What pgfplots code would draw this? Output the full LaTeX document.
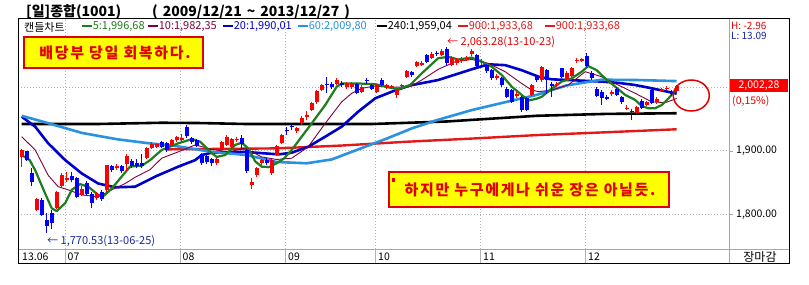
\documentclass[border=0pt]{standalone}
\usepackage{pgfplots}
\pgfplotsset{compat=1.18}
\usepackage{pgfplotstable}
\usepackage{fontspec}
\setmainfont{Noto Sans CJK KR}
\newfontfamily\boxfont[LetterSpace=11]{Noto Sans CJK KR}
\definecolor{cR}{RGB}{255,0,0}
\definecolor{cB}{RGB}{0,0,255}
\definecolor{maA}{RGB}{30,125,30}
\definecolor{maB}{RGB}{128,0,64}
\definecolor{maC}{RGB}{0,0,205}
\definecolor{maD}{RGB}{40,145,225}
\definecolor{maF}{RGB}{225,25,25}
\definecolor{navyt}{RGB}{20,40,160}
\definecolor{ybox}{RGB}{255,255,0}
\definecolor{rtext}{RGB}{225,0,0}
\newcommand\fs[1]{\fontsize{#1}{#1}\selectfont}
\newcommand\lgd[2]{{\color{#1}\rule[3pt]{10pt}{1.8pt}\hspace{0.6pt}#2}}

% candles: k, body bottom, body top, low, high
\pgfplotstableread{
k B T L H
0 1890 1901 1874 1902
3 1806 1824 1805 1825
7 1809 1835 1807 1836
8 1844 1862 1842 1864
9 1853 1856 1850 1866
12 1830 1839 1828 1844
15 1825 1832 1822 1835
17 1837 1877 1835 1878
19 1872 1876 1869 1879
21 1879 1891 1868 1894
25 1889 1904 1887 1905
26 1904 1911 1902 1913
27 1906 1910 1904 1912
30 1908 1916 1905 1918
31 1916 1921 1913 1923
32 1917 1920 1914 1926
39 1880 1886 1878 1888
40 1901 1914 1899 1915
41 1909 1922 1907 1924
42 1905 1918 1903 1920
43 1916 1918 1913 1921
46 1846 1850 1840 1856
47 1861 1872 1859 1874
48 1880 1885 1877 1887
50 1864 1885 1862 1886
51 1893 1907 1891 1909
52 1912 1924 1910 1926
55 1931 1935 1928 1937
56 1943 1952 1940 1954
57 1953 1956 1948 1962
58 1964 1975 1962 1977
59 1976 1994 1974 1996
60 1996 2003 1994 2005
63 2006 2011 2003 2014
65 2001 2006 1998 2008
66 2000 2006 1998 2008
68 1993 2001 1991 2003
71 1993 2004 1991 2006
73 1999 2003 1997 2005
74 2001 2002.5 1998 2004
75 1988 1996 1983 1997
76 2002 2004 2000 2006
77 2017 2025 2015 2027
79 2034 2040 2032 2042
80 2035 2039 2033 2041
82 2047 2053 2045 2055
84 2051 2058 2049 2060
86 2035 2047 2033 2049
87 2038 2043 2035 2046
88 2041 2045 2039 2048
89 2043 2047 2041 2050
90 2052 2058 2050 2060
92 2040 2042 2036 2045
95 2014 2018 2011 2021
99 1986 1990 1983 1993
102 1988 2004 1986 2006
104 2011 2032 2009 2034
107 2003 2006 2000 2008
109 2013 2023 2011 2025
110 2018 2030 2016 2032
111 2041 2043 2039 2046
112 2042 2044 2040 2047
118 1990 1992 1987 1995
121 1966 1968 1964 1972
123 1960 1969 1958 1971
125 1972 1977 1970 1979
127 1976 1982 1974 1984
128 1994.5 1996 1992 1999
129 1997 1999 1995 2002
131 1994.6 2002.28 1993 2003
}\redc

\pgfplotstableread{
k B T L H
1 1885 1899 1884 1900
2 1851 1865 1844 1872
4 1799 1822 1796 1825
5 1781 1790 1770.53 1801
6 1785 1801 1776 1806
10 1853 1860 1850 1866
11 1827 1856 1825 1859
13 1832 1849 1830 1852
14 1817 1831 1810 1834
16 1823 1835 1820 1838
18 1870 1875 1866 1878
20 1867 1876 1864 1878
22 1875 1884 1872 1887
23 1875 1881 1872 1886
24 1875 1880 1873 1894
28 1906 1913 1904 1915
29 1901 1912 1898 1914
33 1923 1937 1920 1940
34 1914 1920 1911 1922
35 1907 1916 1905 1918
36 1880 1894 1878 1896
37 1882 1891 1879 1893
38 1880 1886 1876 1888
44 1911 1920 1903 1925
45 1867 1901 1865 1902
49 1880 1885 1877 1888
53 1931 1933 1925 1937
54 1937 1939 1932 1941
61 2003 2005 1991 2016
62 2000 2005 1997 2008
64 2003 2007 2000 2010
67 1991 2005 1989 2007
69 2010 2012 2006 2014
70 1998 2004 1996 2006
72 2004 2012 2002 2014
78 2019 2024 2017 2026
81 2040 2051 2038 2053
83 2053 2054.5 2050 2058
85 2038 2061 2035 2063.28
91 2034 2051 2031 2053
93 2025 2035 2023 2037
94 2014 2027 2012 2029
96 2004 2014 2001 2016
97 1985 1998 1983 2000
98 1977 1996 1975 1998
100 1964 1985 1961 1987
101 1964 1983 1962 1985
103 2012 2017 2009 2019
105 2012 2027 1990 2029
106 2002 2005 1985 2008
108 2017 2030 2015 2031
113 2034 2050 2032 2054
114 2015 2022 2012 2026
115 1986 1998 1984 2000
116 1983 1993 1972 1995
117 1982 1984 1980 1988
119 1988 1998 1986 2000
120 1976 1985 1974 1987
122 1961 1963 1948 1965
124 1968 1979 1966 1981
126 1975 1995 1973 1997
130 1989 1993 1987 1995
}\bluec

\pgfplotstableread{
k v
0 1893
1.6 1885
2.7 1869
4.7 1832
6 1809
7 1804.5
8.7 1817
10 1838
11.7 1847
13.3 1843
15.3 1830
16.5 1829
18 1840
20 1859
21.7 1875
24 1876
25.7 1885
28 1901
31.3 1911.5
34 1918
35.7 1914
38 1896
39 1890
40.7 1893
42.7 1909
44 1912.5
45.3 1903.6
46.7 1883
48 1874.6
49.5 1874
51 1880
52.5 1888
54 1901
56 1922
58 1943
60.7 1972
63 2001
64 2006
67.3 2006
70.7 2005
73.3 2000
75.3 1997
77.7 2003.6
80 2022
83.3 2046
85.3 2048
87.3 2044
90 2047
92 2040.5
94 2032.5
96 2019.4
98 2001
100 1988
101.3 1979
103 1982
104 1985
106 1998
108 2009
110 2014
112 2024.6
113.3 2033.6
115 2027
116.7 2014
118.7 2001
120.7 1988
122.7 1980
124 1970.5
125.3 1967
126.7 1967
128 1972
129.3 1982
130.3 1991
131 1996.7
}\mafive

\pgfplotstableread{
k v
0 1922
2.7 1901
5.3 1861
7.3 1843
9.3 1838
12 1830
15.3 1827
18 1838
20.7 1848
22.7 1858
25.7 1870
28 1888
31.3 1898
34.7 1909
38 1902
41.3 1898
44.7 1903.6
48 1890
51 1886
54 1888
57.3 1906
60.7 1943
64 1977
66 1990.5
68 1998.4
70.7 2002
74 2000
77.7 2001
80 2011.5
83.3 2028.4
86.7 2040.5
90 2044
93.3 2038
96.7 2024.6
100 2006
102 1995.7
103.4 1993
106 1995.7
109.3 2003.6
112.7 2024.6
116 2016.7
119.3 2003.6
122.7 1990.5
126 1977
128.7 1975.7
131 1982.35
}\maten

\pgfplotstableread{
k v
0 1953.6
2.7 1937.8
5.3 1911.5
8.7 1885
12 1864
15.3 1848
18.7 1842
22.7 1843
24.7 1851
27 1860
31.3 1874.6
34.7 1885
36 1893
38 1896.7
44.7 1898
48 1896
51.4 1894
54 1896.7
57.3 1906
60.7 1922
64 1937.8
67.3 1961.5
70.7 1982.6
74 1993
77.7 2003
83.3 2011.5
90 2028.4
93.3 2036.3
96.7 2035
100 2027
103.4 2016.7
106 2012.6
109.3 2011.5
116 2009
119.3 2007
122.7 2003.6
126 1998.4
131 1990
}\matwenty

\pgfplotstableread{
k v
0 1955
5 1944
12 1928
19 1918
25 1912
31 1907
38 1898
45 1893
51 1882
57 1880
62 1886
67 1901
73 1919
78 1935
83 1948
90 1964
97 1977
103 1988
109 2003
116 2012
123 2011.5
131 2009.8
}\masixty

\pgfplotstableread{
k v
0 1942
15 1942
28 1944
36 1943.5
45 1942
70 1942
85 1946
103 1955
117 1958
131 1959
}\matwoforty

\pgfplotstableread{
k v
29 1902
51 1903.5
64 1908
77 1914
90 1919
103 1924.5
117 1929
131 1933.7
}\manine

\begin{document}
\begin{tikzpicture}
\useasboundingbox (0pt,0pt) rectangle (809pt,284pt);
\fill[white] (0pt,0pt) rectangle (809pt,284pt);

\begin{axis}[at={(18.3pt,34.7pt)}, anchor=south west, scale only axis,
  width=711pt, height=231pt,
  xmin=-0.68, xmax=141.52, ymin=1744.1, ymax=2109.0,
  axis line style={draw=none}, xtick=\empty, ytick=\empty,
  line join=round]
\pgfplotsinvokeforeach{8.66,31.66,52.8,70.8,91.8,112.8}{
  \draw[gray!60, line width=0.8pt, dash pattern=on 1pt off 2pt] (axis cs:#1,1744.1) -- (axis cs:#1,2109);}
\pgfplotsinvokeforeach{1800,1900,2000}{
  \draw[gray!60, line width=0.8pt, dash pattern=on 1pt off 2pt] (axis cs:-0.68,#1) -- (axis cs:141.52,#1);}
\addplot[black, line width=2.6pt] table[x=k,y=v]{\matwoforty};
\addplot[maF, line width=2.4pt] table[x=k,y=v]{\manine};
\addplot[maC, line width=2.6pt] table[x=k,y=v]{\matwenty};
\addplot[maD, line width=2.6pt] table[x=k,y=v]{\masixty};
\addplot[maB, line width=0.9pt] table[x=k,y=v]{\maten};
\addplot[maA, line width=2.2pt] table[x=k,y=v]{\mafive};
% red candles
\addplot[draw=none, mark=none, error bars/.cd, y dir=plus, y explicit, error mark=none,
  error bar style={draw=cR, solid, line width=1pt}]
  table[x=k, y=L, y error expr=\thisrow{H}-\thisrow{L}]{\redc};
\addplot[draw=none, mark=none, error bars/.cd, y dir=plus, y explicit, error mark=none,
  error bar style={draw=cR, solid, line width=3.8pt}]
  table[x=k, y=B, y error expr=\thisrow{T}-\thisrow{B}]{\redc};
% blue candles
\addplot[draw=none, mark=none, error bars/.cd, y dir=plus, y explicit, error mark=none,
  error bar style={draw=cB, solid, line width=1pt}]
  table[x=k, y=L, y error expr=\thisrow{H}-\thisrow{L}]{\bluec};
\addplot[draw=none, mark=none, error bars/.cd, y dir=plus, y explicit, error mark=none,
  error bar style={draw=cB, solid, line width=3.8pt}]
  table[x=k, y=B, y error expr=\thisrow{T}-\thisrow{B}]{\bluec};
\end{axis}

\begin{scope}[x=1pt,y=-1pt,yshift=284pt]
% frame
\draw[gray!70, line width=1pt] (18.3,249.3) -- (789,249.3);
\draw[gray!70, line width=1pt] (729.3,18.3) -- (729.3,264);
\foreach \xx in {65,180,285.7,375.7,480.7,585.7}
  \draw[gray!60, line width=0.8pt] (\xx,249.3) -- (\xx,264);
\draw[black, line width=1pt] (18.3,18.3) rectangle (789,264);
% title
\node[anchor=west, inner sep=0] at (26,11.7) {\fs{14}\bfseries [일]종합(1001)};
\node[anchor=west, inner sep=0] at (152,11.7) {\fs{14}\bfseries (\hspace{5pt}2009/12/21\hspace{5pt}\textasciitilde\hspace{5pt}2013/12/27\hspace{5pt})};
% legend row
\node[anchor=west, inner sep=0] at (24,27) {\fs{11}캔들차트};
\node[anchor=west, inner sep=0] at (82,27) {\fs{11}\lgd{maA}{5:1,996,68}};
\node[anchor=west, inner sep=0] at (148,27) {\fs{11}\lgd{maB}{10:1,982,35}};
\node[anchor=west, inner sep=0] at (223,27) {\fs{11}\lgd{maC}{20:1,990,01}};
\node[anchor=west, inner sep=0] at (298,27) {\fs{11}\lgd{maD}{60:2,009,80}};
\node[anchor=west, inner sep=0] at (377,27) {\fs{11}\lgd{black}{240:1,959,04}};
\node[anchor=west, inner sep=0] at (458,27) {\fs{11}\lgd{maF}{900:1,933,68}};
\node[anchor=west, inner sep=0] at (545,27) {\fs{11}\lgd{maF}{900:1,933,68}};
% right panel
\node[anchor=west, inner sep=0, text=rtext] at (731,26) {\fs{10}H: -2.96};
\node[anchor=west, inner sep=0, text=navyt] at (731,35.5) {\fs{10}L: 13.09};
\fill[cR] (730,79.3) rectangle (788,92.3);
\node[inner sep=0, text=white] at (759,86) {\fs{10.5}2,002,28};
\node[anchor=west, inner sep=0, text=rtext] at (732,101) {\fs{10.5}(0,15\%)};
\draw[gray!70, line width=0.8pt] (729.3,151) -- (733,151);
\draw[gray!70, line width=0.8pt] (729.3,214.3) -- (733,214.3);
\node[anchor=west, inner sep=0] at (736,151) {\fs{10.5}1,900.00};
\node[anchor=west, inner sep=0] at (736,214.3) {\fs{10.5}1,800.00};
\node[inner sep=0] at (760,256.7) {\fs{12}장마감};
% x labels
\node[anchor=west, inner sep=0] at (22,256.7) {\fs{10.5}13.06};
\node[anchor=west, inner sep=0] at (67.5,256.7) {\fs{10.5}07};
\node[anchor=west, inner sep=0] at (182.5,256.7) {\fs{10.5}08};
\node[anchor=west, inner sep=0] at (288,256.7) {\fs{10.5}09};
\node[anchor=west, inner sep=0] at (378,256.7) {\fs{10.5}10};
\node[anchor=west, inner sep=0] at (483,256.7) {\fs{10.5}11};
\node[anchor=west, inner sep=0] at (588,256.7) {\fs{10.5}12};
% yellow boxes
\draw[rtext, fill=ybox, line width=2pt] (24,37.3) rectangle (203,68.3);
\node[inner sep=0, text=rtext] at (115,53) {\boxfont\fs{15}\bfseries 배당부 당일 회복하다.};
\draw[rtext, fill=ybox, line width=2pt] (389,172) rectangle (669,207);
\fill[rtext] (391.5,178) rectangle (394.5,182);
\node[inner sep=0, text=rtext] at (530,190) {\boxfont\fs{15}\bfseries 하지만 누구에게나 쉬운 장은 아닐듯.};
% annotations
\node[anchor=west, inner sep=0, text=navyt] at (47,240.7) {\fs{11}← 1,770.53(13-06-25)};
\node[anchor=west, inner sep=0, text=rtext] at (447,41.7) {\fs{11}← 2,063.28(13-10-23)};
\draw[rtext, line width=1.5pt] (691.3,95.5) ellipse [x radius=18, y radius=15.5];
\end{scope}
\end{tikzpicture}
\end{document}
